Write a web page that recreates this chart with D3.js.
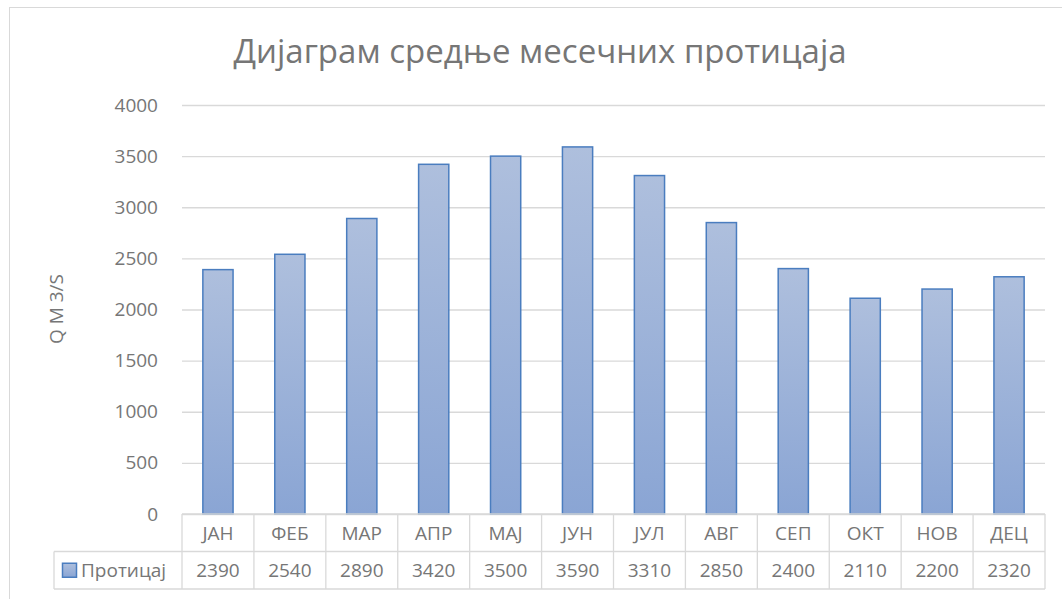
<!DOCTYPE html>
<html>
<head>
<meta charset="utf-8">
<script src="https://cdn.jsdelivr.net/npm/d3@7"></script>
<style>
  body { margin: 0; background: #fff; }
  svg text { font-family: "Open Sans", "Noto Sans", sans-serif; fill: #767676; }
</style>
</head>
<body>
<div id="chart"></div>
<script>
// chart data
const months = ['ЈАН', 'ФЕБ', 'МАР', 'АПР', 'МАЈ', 'ЈУН', 'ЈУЛ', 'АВГ', 'СЕП', 'ОКТ', 'НОВ', 'ДЕЦ']
const flows = [2390, 2540, 2890, 3420, 3500, 3590, 3310, 2850, 2400, 2110, 2200, 2320]
const yTicks = [0, 500, 1000, 1500, 2000, 2500, 3000, 3500, 4000]
const seriesName = 'Протицај'
const chartTitle = 'Дијаграм средње месечних протицаја'
const yTitle = 'Q M 3/S'

const W = 1062, H = 599
const plot = {left: 182, right: 1045, top: 105, bottom: 514}
const rowH = 37.5
const gridColor = '#d9d9d9'
const fontSize = '19px'

const svg = d3.select('#chart').append('svg')
  .attr('width', W)
  .attr('height', H)

// gradient for bars
const grad = svg.append('defs').append('linearGradient')
  .attr('id', 'barGrad')
  .attr('x1', 0).attr('y1', 0).attr('x2', 0).attr('y2', 1)
grad.append('stop').attr('offset', '0%').attr('stop-color', '#aebfdd')
grad.append('stop').attr('offset', '100%').attr('stop-color', '#8aa5d4')

// chart border
svg.append('rect')
  .attr('x', 9.5).attr('y', 7.5)
  .attr('width', W + 20).attr('height', H + 20)
  .attr('fill', 'none')
  .attr('stroke', gridColor)

svg.append('text')
  .attr('x', 540)
  .attr('y', 63)
  .attr('text-anchor', 'middle')
  .style('font-size', '33px')
  .text(chartTitle)

const x = d3.scaleBand()
  .domain(months)
  .range([plot.left, plot.right])
  .paddingInner(0.58)
  .paddingOuter(0.29)

const y = d3.scaleLinear()
  .domain([0, 4000])
  .range([plot.bottom, plot.top])

// gridlines + labels
const yAxis = svg.append('g')
  .attr('transform', 'translate(' + plot.left + ',0)')
  .call(d3.axisLeft(y).tickValues(yTicks).tickFormat(d3.format('d'))
    .tickSize(-(plot.right - plot.left)).tickPadding(24))
yAxis.select('.domain').remove()
yAxis.selectAll('line').attr('stroke', gridColor).attr('stroke-width', 1.3)
yAxis.selectAll('text')
  .style('font-size', fontSize)
  .attr('fill', '#767676')
  .attr('font-family', null)

svg.append('text')
  .attr('transform', 'translate(63,309)rotate(-90)')
  .attr('text-anchor', 'middle')
  .style('font-size', fontSize)
  .text(yTitle)

// Bars
svg.selectAll('rect.bar')
  .data(flows)
  .enter()
  .append('rect')
  .attr('class', 'bar')
  .attr('x', (d, i) => x(months[i]))
  .attr('y', d => y(d))
  .attr('width', x.bandwidth())
  .attr('height', d => y(0) - y(d))
  .attr('fill', 'url(#barGrad)')
  .attr('stroke', '#4a7dbf')
  .attr('stroke-width', 1.5)

// data table
const step = x.step()
const cols = months.map((m, i) => plot.left + step * i)
const tbl = svg.append('g')
const lineAttrs = sel => sel.attr('stroke', gridColor).attr('stroke-width', 1.3)

// horizontal lines
lineAttrs(tbl.append('line').attr('x1', plot.left).attr('x2', plot.right).attr('y1', plot.bottom).attr('y2', plot.bottom))
lineAttrs(tbl.append('line').attr('x1', 54).attr('x2', plot.right).attr('y1', plot.bottom + rowH).attr('y2', plot.bottom + rowH))
lineAttrs(tbl.append('line').attr('x1', 54).attr('x2', plot.right).attr('y1', plot.bottom + 2 * rowH).attr('y2', plot.bottom + 2 * rowH))
// vertical lines
cols.concat([plot.right]).forEach(cx => {
  lineAttrs(tbl.append('line').attr('x1', cx).attr('x2', cx).attr('y1', plot.bottom).attr('y2', plot.bottom + 2 * rowH))
})
lineAttrs(tbl.append('line').attr('x1', 54).attr('x2', 54).attr('y1', plot.bottom + rowH).attr('y2', plot.bottom + 2 * rowH))

tbl.selectAll('text.month')
  .data(months)
  .enter()
  .append('text')
  .attr('class', 'month')
  .attr('x', d => x(d) + x.bandwidth() / 2)
  .attr('y', plot.bottom + rowH / 2 + 7)
  .attr('text-anchor', 'middle')
  .style('font-size', fontSize)
  .text(d => d)

tbl.selectAll('text.val')
  .data(flows)
  .enter()
  .append('text')
  .attr('class', 'val')
  .attr('x', (d, i) => x(months[i]) + x.bandwidth() / 2)
  .attr('y', plot.bottom + rowH * 1.5 + 7)
  .attr('text-anchor', 'middle')
  .style('font-size', fontSize)
  .text(d => d)

// legend key
tbl.append('rect')
  .attr('x', 62.5).attr('y', plot.bottom + rowH * 1.5 - 7)
  .attr('width', 14).attr('height', 14)
  .attr('fill', 'url(#barGrad)')
  .attr('stroke', '#4a7dbf')
  .attr('stroke-width', 1.5)
tbl.append('text')
  .attr('x', 81)
  .attr('y', plot.bottom + rowH * 1.5 + 7)
  .style('font-size', fontSize)
  .text(seriesName)
</script>
</body>
</html>
